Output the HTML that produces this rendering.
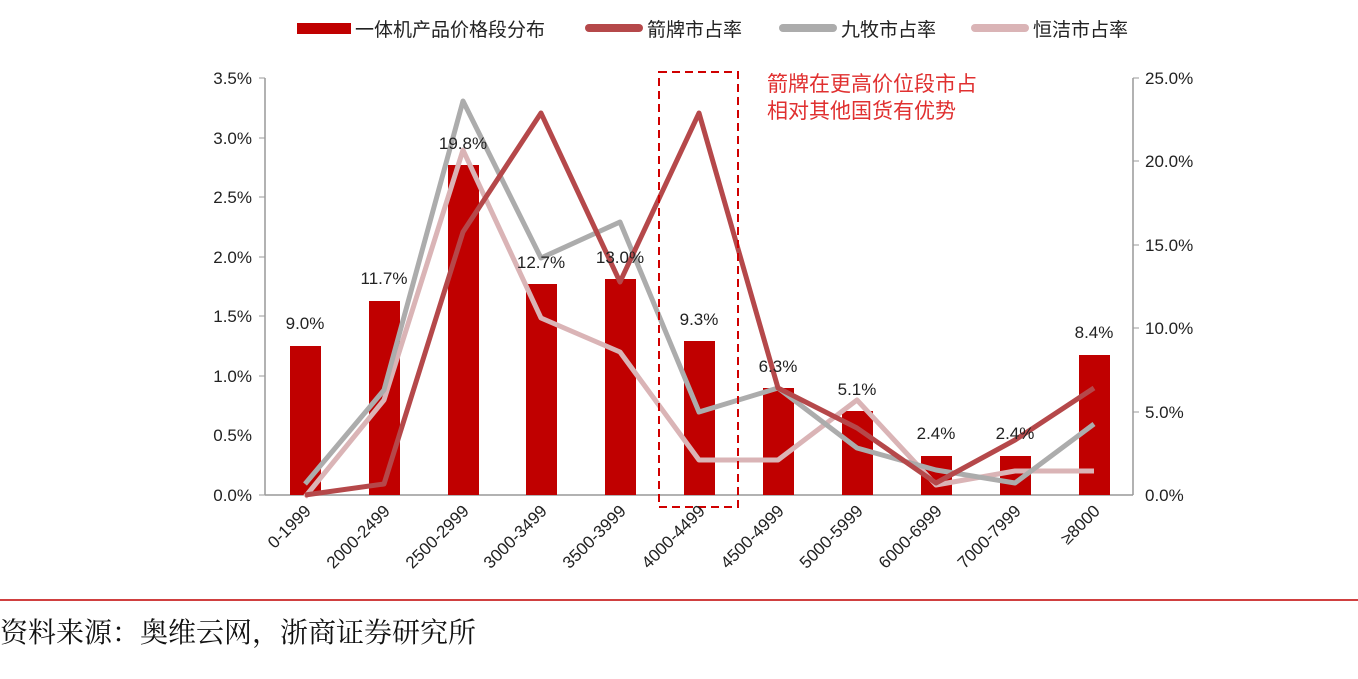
<!DOCTYPE html><html><head><meta charset="utf-8"><style>
body{margin:0;background:#fff;width:1358px;height:674px;overflow:hidden}
text{font-family:"Liberation Sans","Noto Sans CJK SC",sans-serif}
</style></head><body>
<svg width="1358" height="674" xmlns="http://www.w3.org/2000/svg">
<g font-size="19" fill="#222">
<rect x="297" y="23" width="54" height="11" fill="#c00000"/><text x="355" y="36">一体机产品价格段分布</text>
<rect x="585" y="24" width="58" height="8" rx="4" fill="#b5484a"/><text x="647" y="36">箭牌市占率</text>
<rect x="779" y="24" width="58" height="8" rx="4" fill="#acacac"/><text x="841" y="36">九牧市占率</text>
<rect x="971" y="24" width="58" height="8" rx="4" fill="#dab4b6"/><text x="1033" y="36">恒洁市占率</text>
</g>
<g stroke="#999" stroke-width="1.5"><line x1="265" y1="78" x2="265" y2="495"/><line x1="1133" y1="78" x2="1133" y2="495"/><line x1="265" y1="495" x2="1133" y2="495"/></g>
<g stroke="#999"><line x1="259" y1="78" x2="265" y2="78"/><line x1="259" y1="138" x2="265" y2="138"/><line x1="259" y1="197" x2="265" y2="197"/><line x1="259" y1="257" x2="265" y2="257"/><line x1="259" y1="316" x2="265" y2="316"/><line x1="259" y1="376" x2="265" y2="376"/><line x1="259" y1="495" x2="265" y2="495"/>
<line x1="1133" y1="78" x2="1139" y2="78"/><line x1="1133" y1="161" x2="1139" y2="161"/><line x1="1133" y1="245" x2="1139" y2="245"/><line x1="1133" y1="328" x2="1139" y2="328"/><line x1="1133" y1="412" x2="1139" y2="412"/></g>
<g font-size="17" fill="#222" text-anchor="end">
<text x="252" y="84">3.5%</text><text x="252" y="144">3.0%</text><text x="252" y="203">2.5%</text><text x="252" y="263">2.0%</text><text x="252" y="322">1.5%</text><text x="252" y="382">1.0%</text><text x="252" y="441">0.5%</text><text x="252" y="501">0.0%</text></g>
<g font-size="17" fill="#222">
<text x="1145" y="84">25.0%</text><text x="1145" y="167">20.0%</text><text x="1145" y="251">15.0%</text><text x="1145" y="334">10.0%</text><text x="1145" y="418">5.0%</text><text x="1145" y="501">0.0%</text></g>
<g fill="#c00000">
<rect x="290" y="346" width="31" height="149"/><rect x="369" y="301" width="31" height="194"/><rect x="448" y="165" width="31" height="330"/><rect x="526" y="284" width="31" height="211"/><rect x="605" y="279" width="31" height="216"/><rect x="684" y="341" width="31" height="154"/><rect x="763" y="388" width="31" height="107"/><rect x="842" y="411" width="31" height="84"/><rect x="921" y="456" width="31" height="39"/><rect x="1000" y="456" width="31" height="39"/><rect x="1079" y="355" width="31" height="140"/></g>
<g fill="none" stroke-width="5" stroke-linejoin="round">
<polyline stroke="#dab4b6" points="305,497 384,400 463,150 541,318 620,352 699,460 778,460 857,400 936,485 1015,471 1094,471"/>
<polyline stroke="#acacac" points="305,484 384,390 463,101 541,258 620,222 699,412 778,388 857,448 936,470 1015,483 1094,424"/>
<polyline stroke="#b5484a" points="305,495 384,484 463,232 541,113 620,282 699,113 778,388 857,428 936,483 1015,440 1094,388"/>
</g>
<g font-size="17" fill="#222" text-anchor="middle">
<text x="305" y="329">9.0%</text><text x="384" y="284">11.7%</text><text x="463" y="149">19.8%</text><text x="541" y="268">12.7%</text><text x="620" y="263">13.0%</text><text x="699" y="325">9.3%</text><text x="778" y="372">6.3%</text><text x="857" y="395">5.1%</text><text x="936" y="439">2.4%</text><text x="1015" y="439">2.4%</text><text x="1094" y="338">8.4%</text></g>
<rect x="659" y="72" width="79" height="435" fill="none" stroke="#d00000" stroke-width="2" stroke-dasharray="8,5"/>
<g font-size="21" fill="#e03030" style="font-family:'Noto Serif CJK SC',serif"><text x="767" y="91">箭牌在更高价位段市占</text><text x="767" y="118">相对其他国货有优势</text></g>
<g font-size="17" fill="#222" text-anchor="end">
<text transform="translate(312,512) rotate(-45)">0-1999</text>
<text transform="translate(391,512) rotate(-45)">2000-2499</text>
<text transform="translate(470,512) rotate(-45)">2500-2999</text>
<text transform="translate(548,512) rotate(-45)">3000-3499</text>
<text transform="translate(627,512) rotate(-45)">3500-3999</text>
<text transform="translate(706,512) rotate(-45)">4000-4499</text>
<text transform="translate(785,512) rotate(-45)">4500-4999</text>
<text transform="translate(864,512) rotate(-45)">5000-5999</text>
<text transform="translate(943,512) rotate(-45)">6000-6999</text>
<text transform="translate(1022,512) rotate(-45)">7000-7999</text>
<text transform="translate(1101,512) rotate(-45)">≥8000</text></g>
<line x1="0" y1="600" x2="1358" y2="600" stroke="#c00000" stroke-width="1.5"/>
<text x="0" y="642" font-size="28" fill="#111" style="font-family:'Noto Serif CJK SC',serif">资料来源：奥维云网，浙商证券研究所</text>
</svg></body></html>
